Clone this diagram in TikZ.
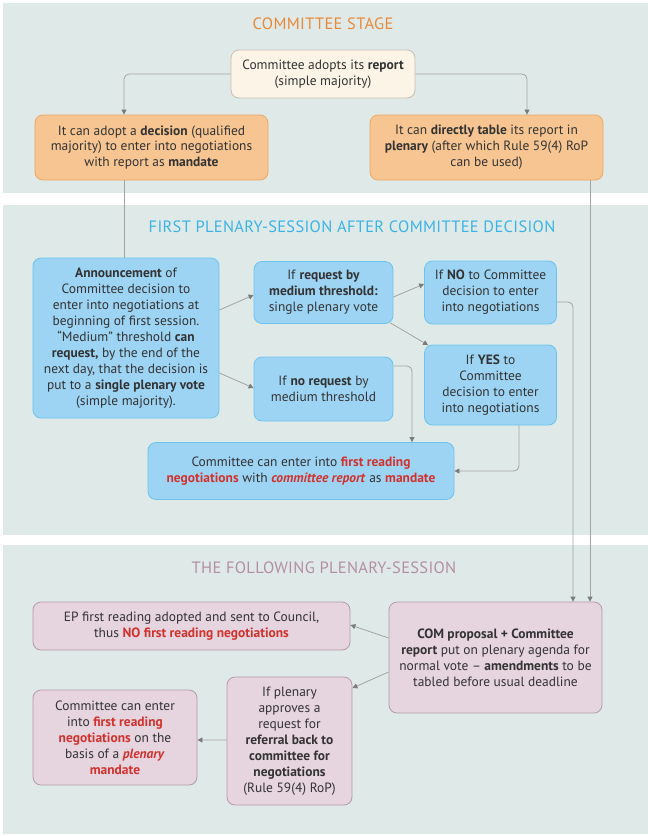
\documentclass[tikz,border=0pt]{standalone}
\usepackage{fontspec}
\setmainfont{PT Sans}
\usetikzlibrary{arrows.meta}
\definecolor{panel}{HTML}{DFEAE8}
\definecolor{txt}{HTML}{333333}
\definecolor{ttlorange}{HTML}{E8893A}
\definecolor{ttlblue}{HTML}{3CB3E6}
\definecolor{ttlmauve}{HTML}{B48FA3}
\definecolor{creamfill}{HTML}{FDF4E8}
\definecolor{creamdraw}{HTML}{C9BDB2}
\definecolor{orfill}{HTML}{F7C592}
\definecolor{ordraw}{HTML}{EBA866}
\definecolor{blfill}{HTML}{9DD4F4}
\definecolor{bldraw}{HTML}{6CC3EE}
\definecolor{mafill}{HTML}{E6D4DF}
\definecolor{madraw}{HTML}{B69AA9}
\definecolor{hot}{HTML}{D2322D}
\definecolor{wire}{HTML}{A3A3A3}
\definecolor{tip}{HTML}{7B7B7B}
\newcommand{\hl}[1]{\textcolor{hot}{\textbf{#1}}}
\newcommand{\hli}[1]{\textcolor{hot}{\textbf{\textit{#1}}}}
\tikzset{
  box/.style={rounded corners=8bp, line width=0.8bp, align=center, inner sep=0pt,
    text=txt, font=\fontsize{13.5}{16}\selectfont},
  creambox/.style={box, fill=creamfill, draw=creamdraw},
  orbox/.style={box, fill=orfill, draw=ordraw},
  blbox/.style={box, fill=blfill, draw=bldraw},
  mabox/.style={box, fill=mafill, draw=madraw},
  wireline/.style={draw=wire, line width=0.8bp, rounded corners=5bp},
  conn/.style={wireline, -{Triangle[length=5bp,width=5bp,color=tip]}},
  ttl/.style={font=\fontsize{16.5}{18}\selectfont\addfontfeature{LetterSpace=2}, inner sep=0pt},
  pnl/.style={fill=panel, draw=none}
}
\begin{document}
\begin{tikzpicture}[x=1bp,y=-1bp]
\useasboundingbox (0,0) rectangle (648,836);
\fill[white] (0,0) rectangle (648,836);
% panels
\path[pnl] (3,3) rectangle (648,193);
\path[pnl] (3,205) rectangle (648,535);
\path[pnl] (3,545) rectangle (648,834);
% titles
\node[ttl, text=ttlorange] (t1) at (323,24) {COMMITTEE STAGE};
\node[ttl, text=ttlblue] (t2) at (352,227) {FIRST PLENARY-SESSION AFTER COMMITTEE DECISION};
\node[ttl, text=ttlmauve] (t3) at (324,568) {THE FOLLOWING PLENARY-SESSION};
% committee stage
\node[creambox, minimum width=184bp, minimum height=48bp] (top) at (323,74)
  {Committee adopts its \textbf{report}\\(simple majority)};
\node[orbox, minimum width=233bp, minimum height=65bp] (lo) at (151.5,147.5)
  {It can adopt a \textbf{decision} (qualified\\majority) to enter into negotiations\\with report as \textbf{mandate}};
\node[orbox, minimum width=233bp, minimum height=65bp] (ro) at (486.5,147.5)
  {It can \textbf{directly table} its report in\\\textbf{plenary} (after which Rule 59(4) RoP\\can be used)};
% first plenary
\node[blbox, minimum width=186bp, minimum height=160bp] (ann) at (126,338)
  {\textbf{Announcement} of\\Committee decision to\\enter into negotiations at\\beginning of first session.\\“Medium” threshold \textbf{can}\\\textbf{request,} by the end of the\\next day, that the decision is\\put to a \textbf{single plenary vote}\\(simple majority).};
\node[blbox, minimum width=139bp, minimum height=62bp] (req) at (323.5,292.5)
  {If \textbf{request by}\\\textbf{medium threshold:}\\single plenary vote};
\node[blbox, minimum width=132bp, minimum height=63bp] (no) at (490.5,292.5)
  {If \textbf{NO} to Committee\\decision to enter\\into negotiations};
\node[blbox, minimum width=139bp, minimum height=64bp] (noreq) at (323.5,389)
  {If \textbf{no request} by\\medium threshold};
\node[blbox, minimum width=132bp, minimum height=80bp] (yes) at (490.5,385)
  {If \textbf{YES} to\\Committee\\decision to enter\\into negotiations};
\node[blbox, minimum width=306bp, minimum height=57bp] (cer) at (301,471)
  {Committee can enter into \hl{first reading}\\\hl{negotiations} with \hli{committee report} as \hl{mandate}};
% following plenary
\node[mabox, minimum width=317bp, minimum height=48bp] (ep) at (191.5,626)
  {EP first reading adopted and sent to Council,\\thus \hl{NO first reading negotiations}};
\node[mabox, minimum width=213bp, minimum height=111bp] (com) at (495.5,657.5)
  {\textbf{COM proposal + Committee}\\\textbf{report} put on plenary agenda for\\normal vote – \textbf{amendments} to be\\tabled before usual deadline};
\node[mabox, minimum width=125bp, minimum height=128bp] (plen) at (289.5,741)
  {If plenary\\approves a\\request for\\\textbf{referral back to}\\\textbf{committee for}\\\textbf{negotiations}\\(Rule 59(4) RoP)};
\node[mabox, minimum width=164bp, minimum height=95bp] (lb) at (115,737.5)
  {Committee can enter\\into \hl{first reading}\\\hl{negotiations} on the\\basis of a \hli{plenary}\\\hl{mandate}};
% helper coordinates
\coordinate (xa) at (124,0);
\coordinate (xb) at (527,0);
\coordinate (xc) at (590,0);
\coordinate (xd) at (573,0);
\coordinate (xe) at (412,0);
\coordinate (xf) at (519,0);
% connectors
\draw[conn] (top.west) -| (lo.north -| xa);
\draw[conn] (top.east) -| (ro.north -| xb);
\draw[wireline] (lo.south -| xa) -- (ann.north -| xa);
\draw[conn] (ro.south -| xc) -- (com.north -| xc);
\draw[conn] ([yshift=28bp]ann.east) -- ([yshift=-2.5bp]req.west);
\draw[conn] ([yshift=-35bp]ann.east) -- ([yshift=1bp]noreq.west);
\draw[conn] ([yshift=-4.5bp]req.east) -- ([yshift=8.5bp]no.west);
\draw[conn] ([xshift=-3bp,yshift=1bp]req.south east) -- ([xshift=4bp,yshift=-0.5bp]yes.north west);
\draw[conn] ([yshift=23bp]noreq.east) -| (cer.north -| xe);
\draw[conn] (yes.south -| xf) |- (cer.east);
\draw[conn] ([yshift=-9.5bp]no.east) -| (com.north -| xd);
\draw[conn] ([yshift=19.5bp]com.west) -- ([yshift=1bp]ep.east);
\draw[conn] ([yshift=-14.5bp]com.west) -- ([yshift=53bp]plen.east);
\draw[conn] ([yshift=1bp]plen.west) -- ([yshift=-2.5bp]lb.east);
\end{tikzpicture}
\end{document}
